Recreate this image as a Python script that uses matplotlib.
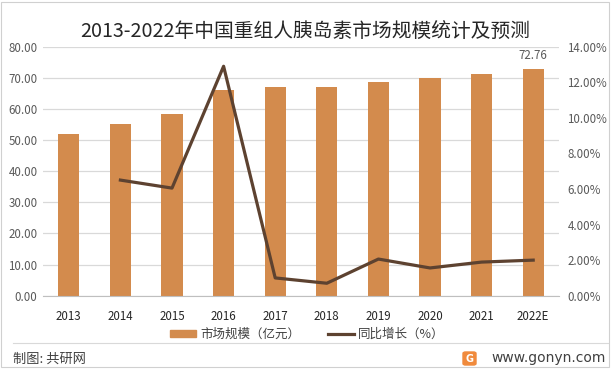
import matplotlib
matplotlib.use("Agg")
import matplotlib.pyplot as plt
from matplotlib.patches import Rectangle, FancyBboxPatch
from matplotlib.lines import Line2D
from matplotlib.ticker import FuncFormatter, MultipleLocator

plt.rcParams['font.family'] = ['Noto Sans CJK SC', 'DejaVu Sans']

years = ["2013", "2014", "2015", "2016", "2017", "2018", "2019", "2020", "2021", "2022E"]
market_size = [51.8, 55.2, 58.5, 66.2, 66.9, 67.2, 68.8, 69.8, 71.1, 72.76]
growth_years = ["2014", "2015", "2016", "2017", "2018", "2019", "2020", "2021", "2022E"]
growth_pct = [6.5, 6.05, 12.9, 1.0, 0.7, 2.06, 1.56, 1.89, 2.0]

title = "2013-2022年中国重组人胰岛素市场规模统计及预测"
legend_bar = "市场规模（亿元）"
legend_line = "同比增长（%）"
source_text = "制图: 共研网"
site_text = "www.gonyn.com"

W, H = 614, 370
fig = plt.figure(figsize=(W / 100, H / 100), dpi=100)
fig.patch.set_facecolor("white")

bar_color = "#D38B4D"
line_color = "#5D4230"
grid_color = "#D9D9D9"
tick_color = "#595959"

ax = fig.add_axes([43 / W, 1 - 295.7 / H, (559 - 43) / W, (295.7 - 46.7) / H])
x = list(range(len(years)))
ax.bar(x, market_size, width=0.41, color=bar_color, zorder=2)
ax.set_xlim(-0.5, len(years) - 0.5)
ax.set_ylim(0, 80)
ax.yaxis.set_major_locator(MultipleLocator(10))
ax.yaxis.set_major_formatter(FuncFormatter(lambda v, p: f"{v:.2f}"))
ax.set_xticks(x)
ax.set_xticklabels(years)
ax.grid(axis="y", color=grid_color, linewidth=0.9, zorder=0)
for s in ["top", "left", "right"]:
    ax.spines[s].set_visible(False)
ax.spines["bottom"].set_color("#BFBFBF")
ax.tick_params(axis="both", length=0, labelsize=8.3, colors=tick_color)
ax.tick_params(axis="y", pad=4)
ax.tick_params(axis="x", pad=10)
for lbl in ax.get_xticklabels():
    lbl.set_color("#262626")
ax.annotate(f"{market_size[-1]:.2f}", (x[-1], market_size[-1]), xytext=(0, 5),
            textcoords="offset points", ha="center", va="bottom",
            fontsize=8.3, color=tick_color)

ax2 = ax.twinx()
gx = [years.index(y) for y in growth_years]
ax2.plot(gx, growth_pct, color=line_color, linewidth=2.3, zorder=3)
ax2.set_ylim(0, 14)
ax2.yaxis.set_major_locator(MultipleLocator(2))
ax2.yaxis.set_major_formatter(FuncFormatter(lambda v, p: f"{v:.2f}%"))
for s in ["top", "left", "right", "bottom"]:
    ax2.spines[s].set_visible(False)
ax2.tick_params(axis="y", length=0, labelsize=8.3, colors=tick_color, pad=6)

fig.text(0.497, 1 - 31 / H, title, ha="center", va="center", fontsize=14.2, color="#262626")

# legend
handles = [Rectangle((0, 0), 1, 1, color=bar_color),
           Line2D([0], [0], color=line_color, linewidth=2.3)]
leg = fig.legend(handles, [legend_bar, legend_line], loc="center",
                 bbox_to_anchor=(0.5, 1 - 334 / H), ncol=2, frameon=False,
                 fontsize=9, handlelength=2.1, handleheight=0.5,
                 columnspacing=2.2, handletextpad=0.3)
for t in leg.get_texts():
    t.set_color("#404040")

# separator and footer
fig.add_artist(Line2D([13 / W, 608 / W], [1 - 343 / H, 1 - 343 / H],
                      color="#D9D9D9", linewidth=0.8))
fig.text(13 / W, 1 - 359 / H, source_text, ha="left", va="center", fontsize=9.5, color="#404040")
fig.text(606 / W, 1 - 358 / H, site_text, ha="right", va="center", fontsize=10, color="#404040",
         family=["DejaVu Sans"])
fig.add_artist(FancyBboxPatch((463 / W, 1 - 365 / H), 13 / W, 13 / H,
                              boxstyle="round,pad=0,rounding_size=0.004",
                              color="#F08A3C", transform=fig.transFigure))
fig.text(469.5 / W, 1 - 358.5 / H, "G", ha="center", va="center", fontsize=7,
         color="white", weight="bold", family=["DejaVu Sans"])

# outer border
fig.add_artist(Rectangle((0.5 / W, 3 / H), 608 / W, (H - 5) / H, fill=False,
                         edgecolor="#D0D0D0", linewidth=0.8, transform=fig.transFigure))

fig.savefig("out.png", dpi=100)
